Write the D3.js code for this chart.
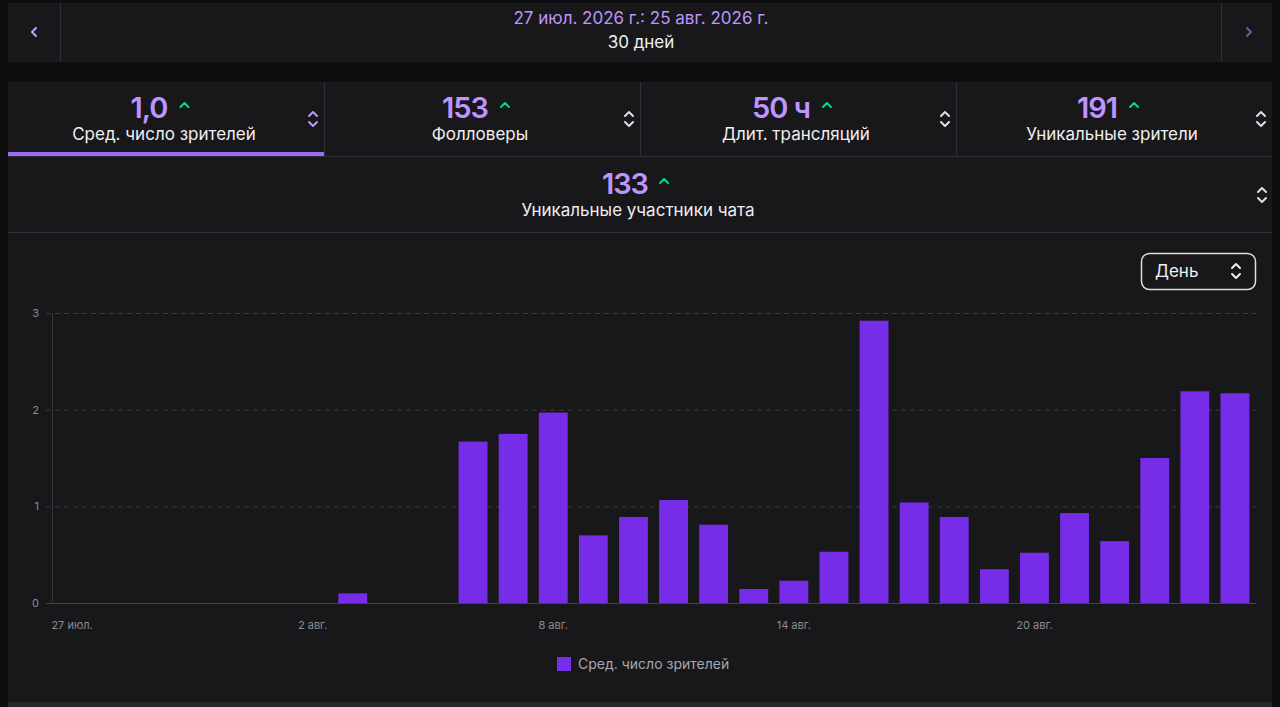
<!DOCTYPE html>
<html>
<head>
<meta charset="utf-8">
<script src="https://cdn.jsdelivr.net/npm/d3@7"></script>
<style>
  html, body { margin: 0; padding: 0; background: #0e0e10; }
  svg { display: block; font-family: Inter, "Noto Sans", sans-serif; }
</style>
</head>
<body>
<svg id="chart"></svg>
<script>
// data
var days = ["27 июл.", "28 июл.", "29 июл.", "30 июл.", "31 июл.", "1 авг.", "2 авг.", "3 авг.", "4 авг.", "5 авг.",
  "6 авг.", "7 авг.", "8 авг.", "9 авг.", "10 авг.", "11 авг.", "12 авг.", "13 авг.", "14 авг.", "15 авг.",
  "16 авг.", "17 авг.", "18 авг.", "19 авг.", "20 авг.", "21 авг.", "22 авг.", "23 авг.", "24 авг.", "25 авг."];
var avgViewers = [0, 0, 0, 0, 0, 0, 0, 0.10, 0, 0,
  1.67, 1.75, 1.97, 0.70, 0.89, 1.065, 0.81, 0.145, 0.23, 0.53,
  2.92, 1.04, 0.89, 0.35, 0.52, 0.93, 0.64, 1.50, 2.19, 2.17];
var xTickLabels = ["27 июл.", "2 авг.", "8 авг.", "14 авг.", "20 авг."];
var yTicks = [0, 1, 2, 3];

var statValues = ["1,0", "153", "50 ч", "191", "133"];
var statLabels = ["Сред. число зрителей", "Фолловеры", "Длит. трансляций", "Уникальные зрители", "Уникальные участники чата"];

var dateRange = "27 июл. 2026 г.: 25 авг. 2026 г.";
var dateSpan = "30 дней";
var seriesName = "Сред. число зрителей";
var periodLabel = "День";

// layout conf.
var svgWidth = 1280, svgHeight = 707;
var purple = "#bf94ff", barColor = "#772ce8", green = "#00db84",
    panel = "#18181b", lineCol = "#2f2f35", textCol = "#efeff1";

var svg = d3.select("#chart").attr("width", svgWidth).attr("height", svgHeight);

function sortIcon(g, x, y, col) {
  g.append("path")
    .attr("d", "M" + (x - 4) + "," + (y - 3) + "L" + x + "," + (y - 7) + "L" + (x + 4) + "," + (y - 3) +
               "M" + (x - 4) + "," + (y + 3) + "L" + x + "," + (y + 7) + "L" + (x + 4) + "," + (y + 3))
    .attr("fill", "none").attr("stroke", col).attr("stroke-width", 2)
    .attr("stroke-linecap", "round").attr("stroke-linejoin", "round");
}

function caret(g, x, y) {
  g.append("path")
    .attr("d", "M" + (x - 4) + "," + (y + 3) + "L" + x + "," + (y - 1) + "L" + (x + 4) + "," + (y + 3))
    .attr("fill", "none").attr("stroke", green).attr("stroke-width", 2)
    .attr("stroke-linecap", "round").attr("stroke-linejoin", "round");
}

// top date bar
var topBar = svg.append("g");
topBar.append("rect").attr("x", 8).attr("y", 3).attr("width", 1264).attr("height", 59).attr("fill", panel);
topBar.append("line").attr("x1", 60.5).attr("x2", 60.5).attr("y1", 3).attr("y2", 62).attr("stroke", lineCol);
topBar.append("line").attr("x1", 1221.5).attr("x2", 1221.5).attr("y1", 3).attr("y2", 62).attr("stroke", lineCol);
topBar.append("path").attr("d", "M36,28L32,32L36,36").attr("fill", "none").attr("stroke", purple)
  .attr("stroke-width", 2.2).attr("stroke-linecap", "round").attr("stroke-linejoin", "round");
topBar.append("path").attr("d", "M1247,28L1251,32L1247,36").attr("fill", "none").attr("stroke", "#6c5e99")
  .attr("stroke-width", 1.8).attr("stroke-linecap", "round").attr("stroke-linejoin", "round");
topBar.append("text").attr("x", 641).attr("y", 24).attr("text-anchor", "middle")
  .attr("fill", purple).attr("font-size", 17).text(dateRange);
topBar.append("text").attr("x", 641).attr("y", 48).attr("text-anchor", "middle")
  .attr("fill", textCol).attr("font-size", 17).text(dateSpan);

// stats panel
var stats = svg.append("g");
stats.append("rect").attr("x", 8).attr("y", 82).attr("width", 1264).attr("height", 620).attr("fill", panel);
stats.append("rect").attr("x", 8).attr("y", 702).attr("width", 1264).attr("height", 5).attr("fill", "#26262b");

var tabX = d3.scaleBand().domain(d3.range(4)).range([8, 1272]);
statValues.slice(0, 4).forEach(function(v, i) {
  var x0 = tabX(i), w = tabX.bandwidth(), cx = x0 + w / 2 - 2;
  if (i > 0) {
    stats.append("line").attr("x1", x0 + 0.5).attr("x2", x0 + 0.5).attr("y1", 82).attr("y2", 156).attr("stroke", lineCol);
  }
  var num = stats.append("text").attr("x", cx - 15).attr("y", 118).attr("text-anchor", "middle")
    .attr("fill", purple).attr("font-size", 29).attr("font-weight", 600).attr("letter-spacing", -1).text(v);
  var bw = num.node().getComputedTextLength();
  caret(stats, cx - 15 + bw / 2 + 17, 104);
  stats.append("text").attr("x", cx).attr("y", 140).attr("text-anchor", "middle")
    .attr("fill", textCol).attr("font-size", 17).text(statLabels[i]);
  sortIcon(stats, x0 + w - 11, 119, i === 0 ? purple : "#dedee3");
});
stats.append("rect").attr("x", 8).attr("y", 152).attr("width", tabX.bandwidth()).attr("height", 4).attr("fill", "#9b6cf0");
stats.append("line").attr("x1", 8).attr("x2", 1272).attr("y1", 156.5).attr("y2", 156.5).attr("stroke", lineCol);

// second row
var num5 = stats.append("text").attr("x", 625).attr("y", 194).attr("text-anchor", "middle")
  .attr("fill", purple).attr("font-size", 29).attr("font-weight", 600).attr("letter-spacing", -1).text(statValues[4]);
caret(stats, 625 + num5.node().getComputedTextLength() / 2 + 16, 180);
stats.append("text").attr("x", 638).attr("y", 216).attr("text-anchor", "middle")
  .attr("fill", textCol).attr("font-size", 17).text(statLabels[4]);
sortIcon(stats, 1262, 195, "#dedee3");
stats.append("line").attr("x1", 8).attr("x2", 1272).attr("y1", 232.5).attr("y2", 232.5).attr("stroke", lineCol);

// period dropdown
stats.append("rect").attr("x", 1141.5).attr("y", 253.5).attr("width", 114).attr("height", 36).attr("rx", 8)
  .attr("fill", "none").attr("stroke", "#dedee3").attr("stroke-width", 1.5);
stats.append("text").attr("x", 1155).attr("y", 277).attr("fill", textCol).attr("font-size", 17).text(periodLabel);
sortIcon(stats, 1236, 271, "#efeff1");

// chart
var x = d3.scaleBand().domain(days).range([52, 1255]).paddingInner(0.28).paddingOuter(0.14);
var y = d3.scaleLinear().domain([0, 3]).range([603, 313]);

var chart = svg.append("g");

chart.selectAll(".grid").data(yTicks.filter(function(d) { return d > 0; })).enter()
  .append("line").classed("grid", true)
  .attr("x1", 46).attr("x2", 1256)
  .attr("y1", function(d) { return y(d) + 0.5; }).attr("y2", function(d) { return y(d) + 0.5; })
  .attr("stroke", "#3a3a3e").attr("stroke-dasharray", "5,4");

chart.append("line").attr("x1", 52.5).attr("x2", 52.5).attr("y1", y(3)).attr("y2", y(0))
  .attr("stroke", "#35353a");

var yAxis = chart.append("g").attr("transform", "translate(52,0)")
  .call(d3.axisLeft(y).tickValues(yTicks).tickFormat(d3.format("d")).tickSize(0).tickPadding(13));
yAxis.select(".domain").remove();
yAxis.selectAll("text").attr("fill", "#8c8c92").attr("font-size", 11).attr("font-family", "Inter, sans-serif");

var xAxis = chart.append("g").attr("transform", "translate(0,603)")
  .call(d3.axisBottom(x).tickValues(xTickLabels).tickSize(0).tickPadding(18));
xAxis.select(".domain").remove();
xAxis.selectAll("text").attr("fill", "#8c8c92").attr("font-size", 11).attr("font-family", "Inter, sans-serif");

chart.selectAll(".bar").data(avgViewers).enter()
  .append("rect").classed("bar", true)
  .attr("x", function(d, i) { return x(days[i]); })
  .attr("width", x.bandwidth())
  .attr("y", function(d) { return y(d); })
  .attr("height", function(d) { return y(0) - y(d); })
  .attr("fill", barColor);

chart.append("line").attr("x1", 46).attr("x2", 1256).attr("y1", 603.5).attr("y2", 603.5)
  .attr("stroke", "#444449");

// legend
var legend = chart.append("g").attr("transform", "translate(557,657)");
legend.append("rect").attr("width", 14).attr("height", 14).attr("fill", barColor);
legend.append("text").attr("x", 21).attr("y", 12).attr("fill", "#a7a7ae").attr("font-size", 14).text(seriesName);
</script>
</body>
</html>
